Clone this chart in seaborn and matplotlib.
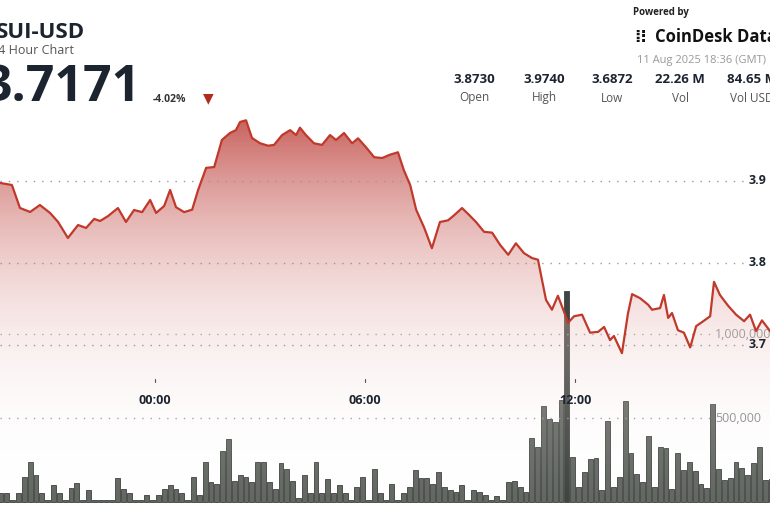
import numpy as np
import pandas as pd
import matplotlib
matplotlib.use("Agg")
import matplotlib.pyplot as plt
import seaborn as sns
from matplotlib.path import Path
from matplotlib.patches import PathPatch

sns.set_theme(style="white")
plt.rcParams['font.family'] = ['Open Sans', 'DejaVu Sans']

# price series: hours relative to 00:00, price
hours = [-4.43,-4.09,-3.86,-3.57,-3.29,-3.0,-2.77,-2.49,-2.2,-1.97,-1.74,-1.57,-1.34,-1.06,-0.83,-0.6,-0.37,-0.14,0.03,0.26,
         0.43,0.6,0.83,1.06,1.23,1.46,1.69,1.91,2.14,2.31,2.43,2.6,2.77,3.0,3.23,3.4,3.63,3.86,4.03,4.14,
         4.31,4.54,4.77,5.0,5.17,5.4,5.63,5.8,6.03,6.26,6.49,6.71,6.94,7.11,7.29,7.46,7.69,7.91,8.14,8.37,
         8.54,8.77,8.94,9.17,9.4,9.63,9.86,10.09,10.31,10.54,10.77,10.94,11.17,11.34,11.51,11.69,11.8,11.97,12.2,12.43,
         12.66,12.83,13.0,13.11,13.34,13.51,13.63,13.86,14.09,14.2,14.43,14.54,14.66,14.77,14.94,15.11,15.29,15.46,15.63,15.86,
         15.97,16.14,16.37,16.6,16.83,17.0,17.17,17.34,17.57]
prices = [3.8976,3.8951,3.8671,3.8622,3.8707,3.861,3.85,3.8305,3.8463,3.8427,3.8537,3.8512,3.8573,3.867,3.85,3.8646,3.862,3.8768,3.861,3.8695,
          3.889,3.868,3.862,3.865,3.889,3.916,3.917,3.950,3.9585,3.962,3.972,3.974,3.9524,3.946,3.943,3.944,3.956,3.962,3.956,3.965,
          3.956,3.946,3.944,3.956,3.95,3.9585,3.946,3.952,3.941,3.929,3.928,3.932,3.935,3.913,3.895,3.865,3.843,3.818,3.85,3.852,
          3.858,3.867,3.86,3.85,3.838,3.837,3.822,3.81,3.824,3.812,3.806,3.804,3.755,3.743,3.76,3.74,3.727,3.735,3.737,3.715,
          3.716,3.722,3.706,3.711,3.69,3.738,3.762,3.757,3.749,3.743,3.745,3.761,3.733,3.739,3.718,3.715,3.697,3.723,3.728,3.735,
          3.777,3.761,3.748,3.737,3.729,3.737,3.717,3.730,3.7171]

# volume (thousands), 10-minute bars
volumes_k = [52,52,10,52,151,238,163,52,10,99,52,10,87,116,10,70,10,10,10,10,
             145,76,52,10,10,41,10,41,81,99,81,52,10,151,41,238,122,105,302,378,
             128,163,151,122,238,238,122,81,233,198,128,23,163,52,238,52,140,52,99,52,
             10,93,151,10,198,52,10,105,10,52,93,192,145,145,105,180,93,70,58,99,
             10,70,58,41,10,35,10,122,128,93,58,384,331,570,494,477,610,1256,267,93,
             180,256,262,70,483,93,151,599,291,169,122,395,93,326,320,81,291,192,238,186,
             110,87,581,198,134,145,238,203,163,233,326,134,140]
bar_start = -4.40
bar_step = 1 / 6

time_ticks = [0, 6, 12]
time_labels = ["00:00", "06:00", "12:00"]
price_ticks = [3.9, 3.8, 3.7]
vol_ticks = [500000, 1000000]
vol_tick_labels = ["500,000", "1,000,000"]

fig = plt.figure(figsize=(7.7, 5.08), dpi=100)
ax = fig.add_axes([0, 0, 1, 1])
ax2 = ax.twinx()
ax.set_zorder(2); ax.patch.set_visible(False)
ax2.set_zorder(1)

xmin, xmax = -4.43, 17.57
pmin, pmax = 3.5012, 4.1207
ax.set_xlim(xmin, xmax); ax.set_ylim(pmin, pmax)

# volume bars
vdf = pd.DataFrame({"t": bar_start + np.arange(len(volumes_k)) * bar_step,
                    "v": np.array(volumes_k) * 1000})
ax2.set_xlim(xmin, xmax)
ax2.set_ylim(-34900, 2988000)
cols = ["#3f4540" if v == vdf.v.max() else "#636862" for v in vdf.v]
ax2.bar(vdf.t, vdf.v, width=bar_step * 0.82, color=cols, edgecolor="#3c403c", linewidth=0.6)

# gradient fill under price
df = pd.DataFrame({"h": hours, "p": prices})
verts = [(df.h.iloc[0], pmin)] + list(zip(df.h, df.p)) + [(df.h.iloc[-1], pmin)]
clip = PathPatch(Path(verts), facecolor="none", edgecolor="none")
ax.add_patch(clip)
grad = np.linspace(0, 1, 256).reshape(-1, 1) ** 1.3
cmap = matplotlib.colors.LinearSegmentedColormap.from_list("g", [(1, 1, 1, 0.0), (0.76, 0.30, 0.28, 0.9)])
im = ax.imshow(grad, extent=[xmin, xmax, pmin, 3.98], origin="lower", aspect="auto",
               cmap=cmap, zorder=0, alpha=1)
im.set_clip_path(clip)
ax.set_xlim(xmin, xmax); ax.set_ylim(pmin, pmax)
sns.lineplot(data=df, x="h", y="p", ax=ax, color="#c0392b", linewidth=1.6, zorder=3)

# grids
for p in price_ticks:
    ax.plot([xmin, 16.9], [p, p], ls=(0, (1, 5)), color="#999999", lw=1, zorder=1)
for v in vol_ticks:
    ax2.plot([xmin, 15.9], [v, v], ls=(0, (1, 5)), color="#999999", lw=1)
for p in price_ticks:
    ax.text(16.95, p, f"{p:.1f}", fontsize=9, fontweight="bold", color="#1c2430", va="center", zorder=5)
for v, l in zip(vol_ticks, vol_tick_labels):
    ax2.text(16.0, v, l, fontsize=9, color="#8a8a8a", va="center")
for t, l in zip(time_ticks, time_labels):
    ax.text(t, 3.8 - (401 - 263) / 820, l, fontsize=9, fontweight="bold", color="#1c2430", ha="center", va="center", zorder=5)
    ax.plot([t, t], [3.8 - (379 - 263) / 820, 3.8 - (382 - 263) / 820], color="#555555", lw=0.8)

for a in (ax, ax2):
    a.set_xticks([]); a.set_yticks([]); a.set_xlabel(""); a.set_ylabel("")
    for s in a.spines.values():
        s.set_visible(False)

# header
fig.text(-0.005, 1 - 32 / 508, "SUI-USD", fontsize=16, fontweight="bold", color="#1c2430", va="center")
fig.text(-0.012, 1 - 50 / 508, "24 Hour Chart", fontsize=9, color="#555555", va="center")
fig.text(-0.022, 1 - 88 / 508, "3.7171", fontsize=36, fontweight="bold", color="#1c2430", va="center")
fig.text(153 / 770, 1 - 100 / 508, "-4.02%", fontsize=7.5, fontweight="bold", color="#333333", va="center")
fig.text(208 / 770, 1 - 99 / 508, "▼", fontsize=10, color="#b22a1c", ha="center", va="center")
stats = [("3.8730", "Open", 474), ("3.9740", "High", 544), ("3.6872", "Low", 612),
         ("22.26 M", "Vol", 680), ("84.65 M", "Vol USD", 752)]
for val, lab, x in stats:
    fig.text(x / 770, 1 - 80 / 508, val, fontsize=9.5, fontweight="bold", color="#1c2430", ha="center", va="center")
    fig.text(x / 770, 1 - 98 / 508, lab, fontsize=8.5, color="#555555", ha="center", va="center")
fig.text(633 / 770, 1 - 13 / 508, "Powered by", fontsize=7, fontweight="bold", color="#222222", va="center")
fig.text(634 / 770, 1 - 37 / 508, "⁞⁝", fontsize=12, fontweight="bold", color="#111111", va="center")
fig.text(655 / 770, 1 - 37 / 508, "CoinDesk Data", fontsize=12, fontweight="bold", color="#111111", va="center")
fig.text(637 / 770, 1 - 60 / 508, "11 Aug 2025 18:36 (GMT)", fontsize=8, color="#999999", va="center")

fig.savefig("out.png", dpi=100)
